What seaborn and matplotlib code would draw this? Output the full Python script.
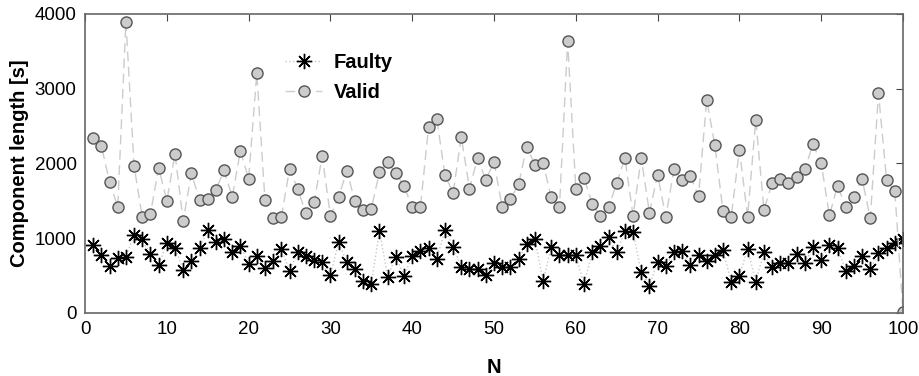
import numpy as np
import pandas as pd
import matplotlib
matplotlib.use("Agg")
import matplotlib.pyplot as plt
import seaborn as sns

# values
n = np.arange(1, 101)

faulty = [910, 776, 633, 740, 753, 1043, 985, 789, 642, 932,
          874, 575, 700, 865, 1110, 954, 985, 812, 900, 660,
          767, 606, 700, 856, 566, 812, 767, 709, 687, 508,
          946, 678, 589, 428, 388, 1101, 486, 753, 495, 767,
          834, 865, 722, 1110, 887, 611, 584, 593, 508, 665,
          620, 620, 722, 923, 985, 428, 887, 771, 771, 771,
          384, 812, 900, 1021, 812, 1101, 1079, 544, 366, 682,
          633, 812, 834, 642, 776, 696, 776, 843, 410, 499,
          860, 420, 812, 620, 665, 665, 789, 665, 878, 709,
          905, 870, 566, 633, 762, 593, 798, 865, 932, 985]

valid = [2345, 2234, 1757, 1418, 3897, 1967, 1284, 1324, 1944, 1498,
         2131, 1231, 1869, 1512, 1525, 1645, 1909, 1552, 2171, 1793,
         3206, 1512, 1266, 1284, 1922, 1663, 1333, 1480, 2096, 1302,
         1547, 1904, 1494, 1378, 1396, 1886, 2016, 1869, 1699, 1414,
         1414, 2488, 2600, 1846, 1605, 2359, 1663, 2074, 1779, 2020,
         1414, 1525, 1722, 2225, 1980, 2002, 1547, 1414, 3634, 1663,
         1810, 1458, 1302, 1414, 1735, 2074, 1302, 2074, 1342, 1851,
         1284, 1922, 1775, 1833, 1565, 2850, 2243, 1360, 1289, 2185,
         1289, 2582, 1382, 1735, 1793, 1735, 1815, 1922, 2261, 2002,
         1307, 1703, 1418, 1547, 1793, 1266, 2939, 1775, 1628, 10]

df = pd.DataFrame({"N": n, "Faulty": faulty, "Valid": valid})

sns.set_style("white")
plt.rcParams['font.family'] = ['Liberation Sans', 'DejaVu Sans']
plt.rcParams['text.color'] = 'black'
plt.rcParams['axes.labelcolor'] = 'black'

fig = plt.figure(figsize=(9.19, 3.76), dpi=100)
ax = fig.add_axes([0.0925, 0.1676, 0.8901, 0.7952])

sns.lineplot(data=df, x="N", y="Faulty", ax=ax, color="#c8c8c8", linestyle=":",
             linewidth=1, marker=(8, 2, 0), markersize=11, markeredgecolor="black",
             markerfacecolor="black", markeredgewidth=1.0, label="Faulty")
sns.lineplot(data=df, x="N", y="Valid", ax=ax, color="#cccccc", linestyle=(0, (7, 4)),
             linewidth=1, marker="o", markersize=8, markerfacecolor="#cccccc",
             markeredgecolor="#555555", markeredgewidth=1, label="Valid")

ax.set_xlim(0, 100)
ax.set_ylim(0, 4000)
ax.set_xticks(range(0, 101, 10))
ax.set_yticks(range(0, 4001, 1000))
ax.tick_params(direction="in", top=True, right=True, length=5, width=0.8,
               color="#444444", labelsize=13.5, labelcolor="black", pad=6)
for s in ax.spines.values():
    s.set_color("#666666")
    s.set_linewidth(1.2)

ax.set_xlabel("N", fontsize=14.5, fontweight="bold", labelpad=14)
ax.set_ylabel("Component length [s]", fontsize=14.5, fontweight="bold", labelpad=4)

leg = ax.legend(loc="upper left", bbox_to_anchor=(0.245, 0.87), frameon=False,
                prop={'weight': 'bold', 'size': 14.5}, borderpad=0, borderaxespad=0,
                handlelength=1.8, handletextpad=0.6, labelspacing=0.55)

fig.savefig("out.png", dpi=100)
